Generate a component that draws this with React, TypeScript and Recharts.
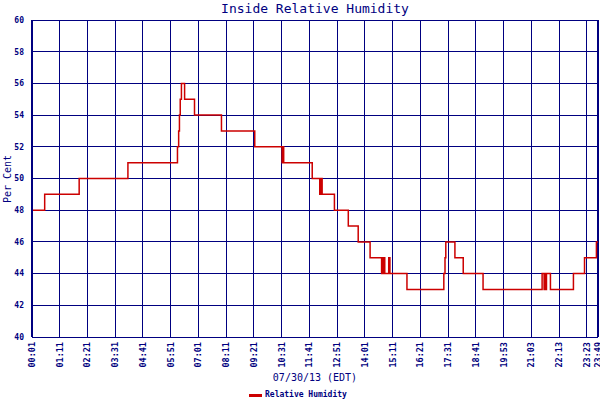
import { LineChart, Line, XAxis, YAxis, CartesianGrid, ReferenceLine } from "recharts";

const NAVY = "#000080";
const RED = "#cc0000";
const MONO = "'DejaVu Sans Mono', 'Liberation Mono', monospace";

// minutes after 00:01 where the reading changes, and the reading from then on
const changeMinutes = [
  0, 32, 119, 242, 367, 370, 372, 374, 377, 385, 410, 478, 562, 631, 633, 635,
  707, 726, 728, 730, 731, 732, 763, 798, 823, 853, 882, 884, 887, 888, 890, 900,
  903, 946, 1039, 1042, 1044, 1067, 1088, 1138, 1287, 1292, 1295, 1296, 1298, 1308,
  1366, 1394, 1424, 1428,
];
const humidity = [
  48, 49, 50, 51, 52, 53, 54, 55, 56, 55, 54, 53, 52, 51, 52, 51,
  50, 49, 50, 49, 50, 49, 48, 47, 46, 45, 44, 45, 44, 45, 44, 45,
  44, 43, 44, 45, 46, 45, 44, 43, 44, 43, 44, 43, 44, 43,
  44, 45, 46, 46,
];

const tickMinutes = [
  0, 70, 140, 210, 280, 350, 420, 490, 560, 630, 700, 770, 840, 910, 980, 1050,
  1120, 1190, 1260, 1330, 1400, 1428,
];
const tickLabels = [
  "00:01", "01:11", "02:21", "03:31", "04:41", "05:51", "07:01", "08:11", "09:21",
  "10:31", "11:41", "12:51", "14:01", "15:11", "16:21", "17:31", "18:41", "19:53",
  "21:03", "22:13", "23:23", "23:49",
];
const yTicks = [40, 42, 44, 46, 48, 50, 52, 54, 56, 58, 60];

const data = changeMinutes.map((t, i) => ({ t, rh: humidity[i] }));

const XTick = (props: any) => {
  const { x, y, payload } = props;
  const label = tickLabels[tickMinutes.indexOf(payload.value)];
  return (
    <text
      x={x}
      y={y}
      transform={`rotate(-90 ${x} ${y})`}
      textAnchor="end"
      dominantBaseline="central"
      fill={NAVY}
      fontSize={8.5}
      fontWeight="bold"
      fontFamily={MONO}
    >
      {label}
    </text>
  );
};

export default function App() {
  return (
    <div style={{ position: "absolute", left: 0, top: 0, width: 600, height: 400, background: "#fff", fontFamily: MONO, color: NAVY }}>
      <div style={{ position: "absolute", left: 0, width: 630, top: 1, textAlign: "center", fontSize: 13, lineHeight: "15px" }}>
        Inside Relative Humidity
      </div>
      <div
        style={{
          position: "absolute", left: -22, top: 173, width: 60, height: 12, lineHeight: "12px",
          textAlign: "center", fontSize: 10, transform: "rotate(-90deg)",
        }}
      >
        Per Cent
      </div>
      <LineChart width={600} height={400} data={data} margin={{ top: 20, right: 2, left: 0, bottom: 0 }}>
        <CartesianGrid stroke={NAVY} strokeWidth={1} shapeRendering="crispEdges" />
        <XAxis
          dataKey="t"
          type="number"
          domain={[0, 1428]}
          ticks={tickMinutes}
          interval={0}
          height={63}
          tickSize={3}
          tickLine={false}
          axisLine={{ stroke: NAVY, shapeRendering: "crispEdges" }}
          tick={<XTick />}
        />
        <YAxis
          domain={[40, 60]}
          ticks={yTicks}
          interval={0}
          width={32}
          tickLine={false}
          axisLine={{ stroke: NAVY, strokeWidth: 2 }}
          tick={{ fill: NAVY, fontSize: 8, fontWeight: "bold", fontFamily: MONO }}
        />
        <ReferenceLine x={1428} stroke={NAVY} strokeWidth={2} />
        <Line
          type="stepAfter"
          dataKey="rh"
          stroke={RED}
          strokeWidth={1.5}
          dot={false}
          isAnimationActive={false}
        />
      </LineChart>
      <div style={{ position: "absolute", left: 0, width: 630, top: 371, textAlign: "center", fontSize: 10, lineHeight: "13px" }}>
        07/30/13 (EDT)
      </div>
      <div style={{ position: "absolute", left: 249, top: 390, fontSize: 8, fontWeight: "bold", lineHeight: "10px", display: "flex", alignItems: "center" }}>
        <span style={{ display: "inline-block", width: 13, height: 3, background: RED, marginRight: 3 }} />
        Relative Humidity
      </div>
    </div>
  );
}
